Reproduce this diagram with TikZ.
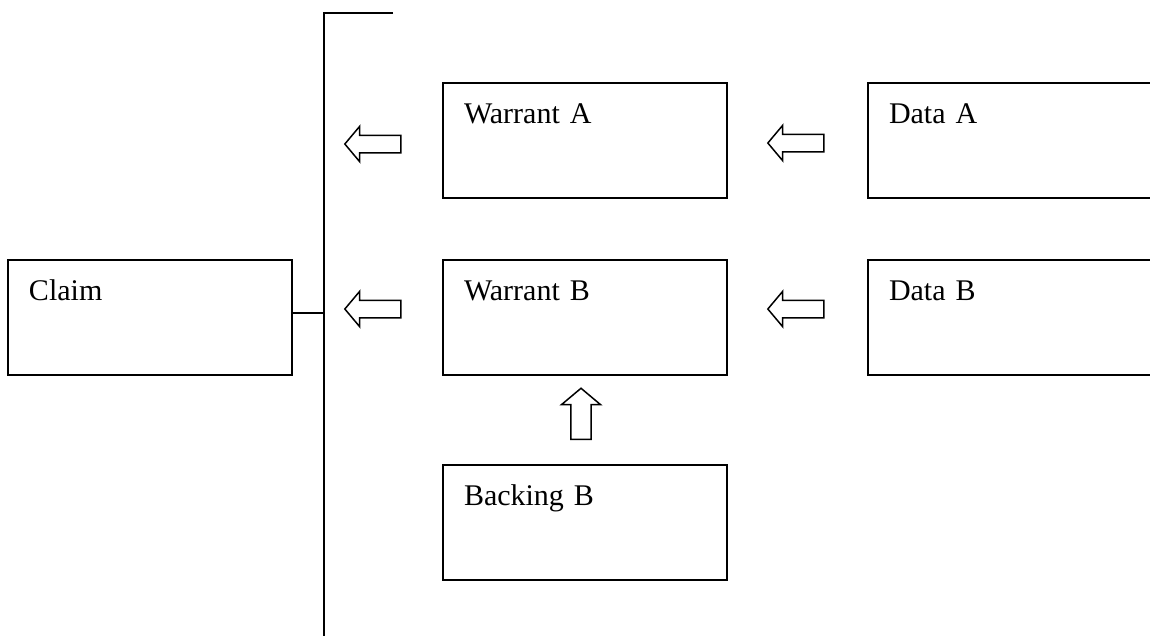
\documentclass[tikz,border=0pt]{standalone}
\usepackage{fontspec}
\setmainfont{Liberation Serif}
\usetikzlibrary{shapes.arrows}

\tikzset{
  argbox/.style={draw, line width=0.8pt, inner xsep=8.4pt, inner ysep=0pt,
    text width=96.8pt, align=left, text height=16pt, text depth=30pt,
    font=\fontsize{12}{14}\selectfont},
  blockarrow/.style={draw, single arrow, line width=0.6pt, inner sep=0pt,
    inner ysep=3.2pt, minimum height=22.4pt, minimum width=13.6pt,
    single arrow head extend=3.6pt, single arrow tip angle=100},
  bracketline/.style={line width=0.8pt}
}

\begin{document}
\begin{tikzpicture}[x=0.4pt, y=-0.4pt]
  \useasboundingbox (0,0) rectangle (1150,635);
  % Claim and bracket
  \node[argbox] (claim) at (150,317.5) {Claim};
  \coordinate (bartop) at (324,13);
  \coordinate (barend) at (393,13);
  \coordinate (barbot) at (324,640);
  \coordinate (join) at (324,313);
  \draw[bracketline] (barend) -- (bartop) -- (barbot);
  \draw[bracketline] (join) -- (join -| claim.east);
  % Warrants, backing and data
  \node[argbox] (warA) at (585,140.5) {Warrant A};
  \node[argbox] (warB) at (585,317.5) {Warrant B};
  \node[argbox] (backB) at (585,522.5) {Backing B};
  \node[argbox] (dataA) at (1010,140.5) {Data A};
  \node[argbox] (dataB) at (1010,317.5) {Data B};
  % Block arrows
  \node[blockarrow, rotate=180] (arrWA) at (376.5,144) {};
  \node[blockarrow, rotate=180] (arrWB) at (376.5,309) {};
  \node[blockarrow, rotate=180] (arrDA) at (799.5,143) {};
  \node[blockarrow, rotate=180] (arrDB) at (799.5,309) {};
  \node[blockarrow, rotate=90, minimum height=20.4pt, minimum width=15.6pt,
        inner ysep=3.6pt] (arrBB) at (581,418) {};
\end{tikzpicture}
\end{document}
